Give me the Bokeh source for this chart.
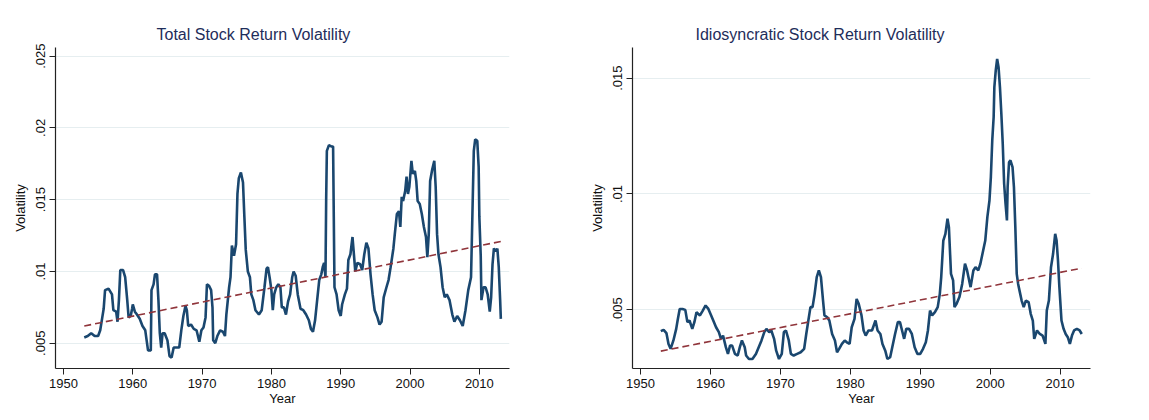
from bokeh.plotting import figure
from bokeh.layouts import row
from bokeh.models import FixedTicker, Range1d
from bokeh.embed import file_html
from bokeh.resources import INLINE

# ---------------- data ----------------
total_years = [1953.0, 1953.5, 1954.0, 1954.5, 1955.0, 1955.3, 1955.6, 1955.8, 1956.0, 1956.5,
               1957.0, 1957.2, 1957.6, 1957.8, 1958.0, 1958.2, 1958.6, 1958.9, 1959.2, 1959.4,
               1959.7, 1959.9, 1960.0, 1960.3, 1960.6, 1961.0, 1961.4, 1961.8, 1962.0, 1962.2,
               1962.6, 1962.7, 1963.0, 1963.2, 1963.5, 1963.7, 1963.9, 1964.1, 1964.3, 1964.6,
               1965.0, 1965.3, 1965.6, 1965.9, 1966.3, 1966.7, 1967.0, 1967.3, 1967.6, 1967.8,
               1968.0, 1968.4, 1968.8, 1969.2, 1969.6, 1969.9, 1970.2, 1970.5, 1970.7, 1971.0,
               1971.3, 1971.5, 1971.6, 1971.9, 1972.2, 1972.6, 1973.0, 1973.3, 1973.5, 1973.9,
               1974.1, 1974.3, 1974.6, 1974.9, 1975.1, 1975.3, 1975.6, 1975.9, 1976.1, 1976.3,
               1976.6, 1976.9, 1977.1, 1977.4, 1977.7, 1978.2, 1978.6, 1979.0, 1979.3, 1979.5,
               1979.8, 1980.0, 1980.2, 1980.4, 1980.7, 1981.0, 1981.3, 1981.5, 1981.8, 1982.1,
               1982.4, 1982.7, 1983.0, 1983.2, 1983.5, 1983.8, 1984.2, 1984.6, 1985.0, 1985.4,
               1985.7, 1986.0, 1986.3, 1986.6, 1986.9, 1987.2, 1987.4, 1987.6, 1987.8, 1987.9,
               1988.0, 1988.3, 1988.7, 1988.9, 1989.0, 1989.1, 1989.4, 1989.7, 1990.0, 1990.2,
               1990.6, 1990.9, 1991.1, 1991.4, 1991.7, 1991.9, 1992.1, 1992.4, 1992.8, 1993.1,
               1993.4, 1993.7, 1994.0, 1994.3, 1994.6, 1994.9, 1995.3, 1995.6, 1995.9, 1996.2,
               1996.6, 1996.9, 1997.2, 1997.6, 1997.8, 1998.1, 1998.4, 1998.6, 1998.8, 1999.0,
               1999.3, 1999.5, 1999.7, 1999.9, 2000.2, 2000.4, 2000.7, 2000.9, 2001.1, 2001.4,
               2001.7, 2002.0, 2002.3, 2002.5, 2002.7, 2002.9, 2003.2, 2003.5, 2003.7, 2003.9,
               2004.1, 2004.4, 2004.7, 2005.0, 2005.3, 2005.7, 2006.1, 2006.4, 2006.8, 2007.2,
               2007.6, 2008.0, 2008.4, 2008.8, 2009.0, 2009.2, 2009.4, 2009.7, 2009.9, 2010.0,
               2010.2, 2010.3, 2010.6, 2010.9, 2011.2, 2011.5, 2011.7, 2011.9, 2012.1, 2012.4,
               2012.6, 2012.8, 2013.0, 2013.1]
total_vol = [0.0054, 0.0055, 0.0057, 0.0055, 0.0055, 0.0059, 0.0068, 0.0074, 0.0087, 0.0088,
             0.0084, 0.0073, 0.0072, 0.0065, 0.0080, 0.0101, 0.0101, 0.0096, 0.0080, 0.0068,
             0.0069, 0.0074, 0.0077, 0.0072, 0.0070, 0.0067, 0.0062, 0.0059, 0.0052, 0.0045,
             0.0045, 0.0087, 0.0091, 0.0098, 0.0098, 0.0080, 0.0057, 0.0047, 0.0057, 0.0057,
             0.0052, 0.0041, 0.0040, 0.0047, 0.0047, 0.0047, 0.0059, 0.0069, 0.0076, 0.0073,
             0.0062, 0.0063, 0.0060, 0.0059, 0.0051, 0.0059, 0.0061, 0.0068, 0.0091, 0.0090,
             0.0087, 0.0075, 0.0052, 0.0050, 0.0055, 0.0059, 0.0058, 0.0055, 0.0070, 0.0089,
             0.0096, 0.0118, 0.0111, 0.0119, 0.0154, 0.0165, 0.0169, 0.0162, 0.0138, 0.0115,
             0.0100, 0.0096, 0.0084, 0.0080, 0.0073, 0.0070, 0.0073, 0.0089, 0.0102, 0.0103,
             0.0094, 0.0087, 0.0073, 0.0084, 0.0089, 0.0091, 0.0089, 0.0075, 0.0075, 0.0070,
             0.0079, 0.0084, 0.0096, 0.0100, 0.0097, 0.0084, 0.0074, 0.0073, 0.0070, 0.0066,
             0.0060, 0.0058, 0.0066, 0.0080, 0.0094, 0.0098, 0.0103, 0.0106, 0.0096, 0.0150,
             0.0184, 0.0188, 0.0187, 0.0187, 0.0138, 0.0089, 0.0084, 0.0073, 0.0069, 0.0077,
             0.0084, 0.0088, 0.0108, 0.0112, 0.0124, 0.0112, 0.0100, 0.0106, 0.0105, 0.0101,
             0.0112, 0.0120, 0.0116, 0.0098, 0.0084, 0.0073, 0.0068, 0.0063, 0.0065, 0.0082,
             0.0089, 0.0094, 0.0103, 0.0116, 0.0126, 0.0140, 0.0142, 0.0131, 0.0152, 0.0149,
             0.0156, 0.0166, 0.0154, 0.0159, 0.0177, 0.0168, 0.0170, 0.0163, 0.0149, 0.0147,
             0.0140, 0.0131, 0.0124, 0.0110, 0.0126, 0.0163, 0.0171, 0.0177, 0.0159, 0.0126,
             0.0112, 0.0103, 0.0089, 0.0082, 0.0084, 0.0080, 0.0070, 0.0065, 0.0069, 0.0066,
             0.0062, 0.0073, 0.0087, 0.0096, 0.0140, 0.0184, 0.0192, 0.0191, 0.0173, 0.0138,
             0.0111, 0.0080, 0.0089, 0.0089, 0.0084, 0.0072, 0.0082, 0.0105, 0.0116, 0.0114,
             0.0116, 0.0103, 0.0080, 0.0067]
total_trend_years = [1953.0, 2013.2]
total_trend_vals = [0.0062, 0.0121]

idio_years = [1952.9, 1953.3, 1953.7, 1954.0, 1954.3, 1954.7, 1955.1, 1955.3, 1955.6, 1956.0,
              1956.4, 1956.7, 1957.0, 1957.4, 1957.7, 1958.0, 1958.5, 1958.9, 1959.3, 1959.7,
              1960.1, 1960.4, 1960.8, 1961.2, 1961.5, 1961.8, 1962.2, 1962.5, 1962.8, 1963.1,
              1963.5, 1963.9, 1964.2, 1964.5, 1964.9, 1965.1, 1965.5, 1966.0, 1966.5, 1966.9,
              1967.3, 1967.7, 1968.0, 1968.4, 1968.7, 1969.1, 1969.4, 1969.8, 1970.2, 1970.5,
              1970.8, 1971.2, 1971.5, 1971.9, 1972.4, 1972.9, 1973.4, 1973.7, 1974.0, 1974.3,
              1974.6, 1974.9, 1975.2, 1975.5, 1975.8, 1976.1, 1976.3, 1976.7, 1977.0, 1977.4,
              1977.8, 1978.1, 1978.4, 1978.8, 1979.2, 1979.5, 1979.9, 1980.2, 1980.6, 1980.9,
              1981.2, 1981.6, 1981.9, 1982.2, 1982.6, 1983.1, 1983.6, 1983.9, 1984.3, 1984.6,
              1985.0, 1985.3, 1985.7, 1986.0, 1986.4, 1986.8, 1987.1, 1987.4, 1987.7, 1988.0,
              1988.4, 1988.8, 1989.2, 1989.6, 1990.0, 1990.4, 1990.8, 1991.1, 1991.4, 1991.7,
              1992.1, 1992.5, 1992.8, 1993.0, 1993.3, 1993.6, 1993.9, 1994.1, 1994.4, 1994.7,
              1994.9, 1995.2, 1995.6, 1996.0, 1996.4, 1996.7, 1996.9, 1997.2, 1997.6, 1997.9,
              1998.3, 1998.6, 1999.0, 1999.3, 1999.6, 1999.9, 2000.1, 2000.3, 2000.5, 2000.6,
              2000.8, 2001.0, 2001.2, 2001.4, 2001.6, 2001.8, 2002.0, 2002.2, 2002.4, 2002.5,
              2002.7, 2002.9, 2003.2, 2003.4, 2003.6, 2003.8, 2004.0, 2004.2, 2004.5, 2004.8,
              2005.1, 2005.5, 2005.8, 2006.1, 2006.3, 2006.7, 2007.1, 2007.5, 2007.9, 2008.1,
              2008.4, 2008.7, 2009.0, 2009.3, 2009.5, 2009.7, 2009.9, 2010.2, 2010.5, 2010.8,
              2011.1, 2011.4, 2011.7, 2012.0, 2012.4, 2012.8, 2013.1]
idio_vol = [0.00408, 0.00414, 0.00400, 0.00353, 0.00332, 0.00368, 0.00418, 0.00454, 0.00504, 0.00504,
            0.00500, 0.00447, 0.00454, 0.00418, 0.00447, 0.00490, 0.00476, 0.00497, 0.00519, 0.00504,
            0.00476, 0.00454, 0.00425, 0.00404, 0.00375, 0.00389, 0.00339, 0.00310, 0.00346, 0.00346,
            0.00310, 0.00303, 0.00339, 0.00368, 0.00339, 0.00303, 0.00288, 0.00288, 0.00310, 0.00339,
            0.00368, 0.00404, 0.00418, 0.00404, 0.00411, 0.00375, 0.00324, 0.00288, 0.00310, 0.00404,
            0.00411, 0.00368, 0.00310, 0.00303, 0.00310, 0.00317, 0.00332, 0.00396, 0.00454, 0.00512,
            0.00512, 0.00569, 0.00641, 0.00670, 0.00641, 0.00540, 0.00476, 0.00468, 0.00454, 0.00396,
            0.00368, 0.00317, 0.00332, 0.00353, 0.00368, 0.00360, 0.00353, 0.00425, 0.00461, 0.00547,
            0.00526, 0.00476, 0.00411, 0.00389, 0.00411, 0.00411, 0.00454, 0.00411, 0.00396, 0.00353,
            0.00324, 0.00288, 0.00296, 0.00339, 0.00396, 0.00447, 0.00447, 0.00411, 0.00375, 0.00418,
            0.00418, 0.00396, 0.00339, 0.00310, 0.00310, 0.00332, 0.00360, 0.00411, 0.00497, 0.00476,
            0.00490, 0.00512, 0.00569, 0.00641, 0.00799, 0.00828, 0.00893, 0.00857, 0.00655, 0.00627,
            0.00512, 0.00526, 0.00555, 0.00612, 0.00699, 0.00670, 0.00641, 0.00598, 0.00670, 0.00684,
            0.00670, 0.00699, 0.00756, 0.00799, 0.00900, 0.00972, 0.01073, 0.01231, 0.01332, 0.01461,
            0.01533, 0.01583, 0.01547, 0.01461, 0.01346, 0.01217, 0.01044, 0.00958, 0.00886, 0.01030,
            0.01137, 0.01145, 0.01116, 0.01030, 0.00857, 0.00655, 0.00612, 0.00583, 0.00540, 0.00512,
            0.00540, 0.00533, 0.00483, 0.00454, 0.00375, 0.00411, 0.00396, 0.00389, 0.00353, 0.00497,
            0.00540, 0.00684, 0.00742, 0.00828, 0.00799, 0.00713, 0.00598, 0.00454, 0.00418, 0.00396,
            0.00382, 0.00353, 0.00389, 0.00411, 0.00418, 0.00411, 0.00396]
idio_trend_years = [1952.9, 2013.1]
idio_trend_vals = [0.00322, 0.0068]

x_ticks = [1950, 1960, 1970, 1980, 1990, 2000, 2010]
total_y_ticks = [0.005, 0.01, 0.015, 0.02, 0.025]
total_y_labels = [".005", ".01", ".015", ".02", ".025"]
idio_y_ticks = [0.005, 0.01, 0.015]
idio_y_labels = [".005", ".01", ".015"]

titles = ["Total Stock Return Volatility", "Idiosyncratic Stock Return Volatility"]
x_label = "Year"
y_label = "Volatility"

# ---------------- styling ----------------
FONT = "Liberation Sans"
LINE_COLOR = "#1a476f"
TREND_COLOR = "#90353b"
TITLE_COLOR = "#1e2d5a"
GRID_COLOR = "#e6eef0"


def make_panel(years, vals, tyears, tvals, yticks, ylabels, title, yrange,
               width, height, bl, br, title_offset):
    p = figure(width=width, height=height, output_backend="svg", toolbar_location=None,
               x_range=Range1d(1948.85, 2014.35), y_range=Range1d(*yrange),
               min_border_left=bl, min_border_right=br, min_border_top=47,
               min_border_bottom=50)
    p.styles = {"outline": "1px solid #e8efef", "outline-offset": "-5px"}
    p.title.text = title
    p.title.text_font = FONT
    p.title.text_font_size = "16px"
    p.title.text_font_style = "normal"
    p.title.text_color = TITLE_COLOR
    p.title.align = "left"
    p.title.offset = title_offset
    p.outline_line_color = None
    p.background_fill_color = "white"
    p.border_fill_color = "white"

    p.xgrid.visible = False
    p.ygrid.ticker = FixedTicker(ticks=yticks)
    p.ygrid.grid_line_color = GRID_COLOR
    p.ygrid.grid_line_width = 1.2

    p.xaxis.ticker = FixedTicker(ticks=x_ticks)
    p.yaxis.ticker = FixedTicker(ticks=yticks)
    p.yaxis.major_label_overrides = {t: l for t, l in zip(yticks, ylabels)}
    p.yaxis.major_label_orientation = "vertical"
    for ax in (p.xaxis[0], p.yaxis[0]):
        ax.axis_line_color = "#222222"
        ax.axis_line_width = 1.2
        ax.major_tick_line_color = "#222222"
        ax.major_tick_in = 0
        ax.major_tick_out = 6
        ax.minor_tick_line_color = None
        ax.major_label_text_font = FONT
        ax.major_label_text_font_size = "13px"
        ax.major_label_text_color = "#111111"
        ax.axis_label_text_font = FONT
        ax.axis_label_text_font_size = "13px"
        ax.axis_label_text_font_style = "normal"
        ax.axis_label_text_color = "#111111"
    p.xaxis.axis_label = x_label
    p.xaxis.axis_label_standoff = 0
    p.xaxis.major_label_standoff = 4
    p.yaxis.axis_label = y_label
    p.yaxis.axis_label_standoff = 6
    p.yaxis.major_label_standoff = 4

    p.line(years, vals, line_color=LINE_COLOR, line_width=2.6)
    p.line(tyears, tvals, line_color=TREND_COLOR, line_width=1.6, line_dash="7 4")
    return p


left = make_panel(total_years, total_vol, total_trend_years, total_trend_vals,
                  total_y_ticks, total_y_labels, titles[0], (0.00324, 0.0256),
                  578, 418, 55, 69, 101)
right = make_panel(idio_years, idio_vol, idio_trend_years, idio_trend_vals,
                   idio_y_ticks, idio_y_labels, titles[1], (0.00247, 0.01632),
                   567, 418, 54, 55, 63)

layout = row(left, right, spacing=0)
open("out.html", "w").write(file_html(layout, INLINE))
